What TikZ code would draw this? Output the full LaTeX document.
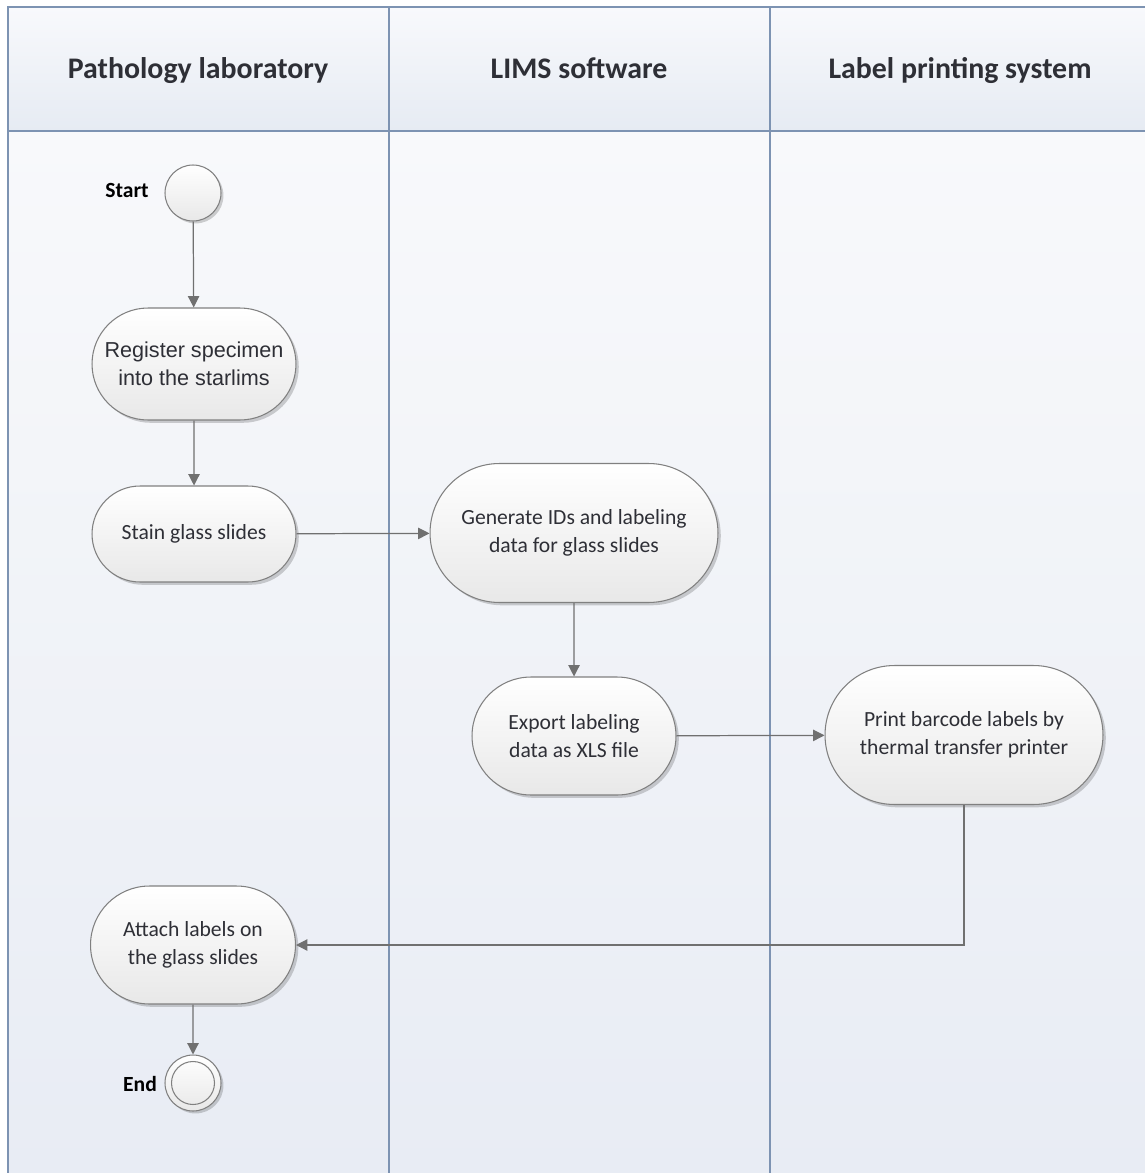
\documentclass[tikz,border=0pt]{standalone}
\usepackage{fontspec}
\setmainfont{Carlito}
\newfontfamily\arialfont{Liberation Sans}
\usepackage{xcolor}
\usetikzlibrary{positioning, arrows.meta, shapes.misc, shadows}
\definecolor{laneline}{HTML}{7D93B2}
\definecolor{flowgray}{HTML}{707070}
\definecolor{textdark}{HTML}{2E2F36}
\definecolor{headtop}{HTML}{F8F9FC}
\definecolor{headbot}{HTML}{E6EBF3}
\definecolor{bodytop}{HTML}{F8F9FB}
\definecolor{bodybot}{HTML}{E8ECF4}

\begin{document}
\begin{tikzpicture}[x=0.02cm, y=-0.02cm, >={Triangle[length=6.5pt, width=6.5pt]},
    activity/.style={rounded rectangle, draw=black!50, line width=0.6pt, top color=white, bottom color=black!9,
      drop shadow={shadow xshift=1.6pt, shadow yshift=-1.6pt, fill=black, opacity=0.18},
      text=textdark, font=\fontsize{12.3}{16}\selectfont, align=center, inner sep=0pt},
    terminal/.style={circle, draw=black!50, line width=0.6pt, top color=white, bottom color=black!9,
      drop shadow={shadow xshift=1.4pt, shadow yshift=-1.4pt, fill=black, opacity=0.18},
      minimum size=1.12cm, inner sep=0pt},
    lanehead/.style={font=\fontsize{17}{20}\selectfont\bfseries, text=textdark, anchor=base},
    flowlbl/.style={font=\fontsize{12.3}{15}\selectfont\bfseries, text=black},
    flow/.style={->, draw=flowgray, line width=0.7pt}]
  \useasboundingbox (0,0) rectangle (1145,1173);
  % swimlanes
  \fill[top color=headtop, bottom color=headbot] (8,7) rectangle (1152,131);
  \fill[top color=bodytop, bottom color=bodybot] (8,131) rectangle (1152,1180);
  \draw[laneline, line width=1.1pt] (1152,7) -- (8,7) -- (8,1180);
  \draw[laneline, line width=1.1pt] (8,131) -- (1152,131);
  \draw[laneline, line width=1.1pt] (389,7) -- (389,1180);
  \draw[laneline, line width=1.1pt] (770,7) -- (770,1180);
  \node[lanehead] (lab) at (198,78) {Pathology laboratory};
  \node[lanehead] (lims) at (579,78) {LIMS software};
  \node[lanehead] (lps) at (960,78) {Label printing system};
  % activities
  \node[terminal] (start) at (193,193) {};
  \node[flowlbl] (startlbl) at (127,190) {Start};
  \node[activity, minimum width=4.08cm, minimum height=2.24cm, font=\fontsize{12.3}{16}\arialfont] (reg) at (194,364) {Register specimen\\into the starlims};
  \node[activity, minimum width=4.08cm, minimum height=1.92cm] (stain) at (194,534) {Stain glass slides};
  \node[activity, minimum width=5.76cm, minimum height=2.78cm] (gen) at (574,533) {Generate IDs and labeling\\data for glass slides};
  \node[activity, minimum width=4.08cm, minimum height=2.36cm] (exp) at (574,736) {Export labeling\\data as XLS file};
  \node[activity, minimum width=5.56cm, minimum height=2.78cm] (prt) at (964,735) {Print barcode labels by\\thermal transfer printer};
  \node[activity, minimum width=4.1cm, minimum height=2.36cm] (att) at (193,945) {Attach labels on\\the glass slides};
  \node[terminal] (end) at (193,1083) {};
  \node[circle, draw=black!50, line width=0.6pt, minimum size=0.86cm, inner sep=0pt] (endin) at (end) {};
  \node[flowlbl] (endlbl) at (140,1084) {End};
  % flows
  \draw[flow] (start) -- (reg);
  \draw[flow] (reg) -- (stain);
  \draw[flow] (stain) -- (gen);
  \draw[flow] (gen) -- (exp);
  \draw[flow] (exp) -- (prt);
  \draw[flow] (prt.south) |- (att.east);
  \draw[flow] (att) -- (end);
\end{tikzpicture}
\end{document}
